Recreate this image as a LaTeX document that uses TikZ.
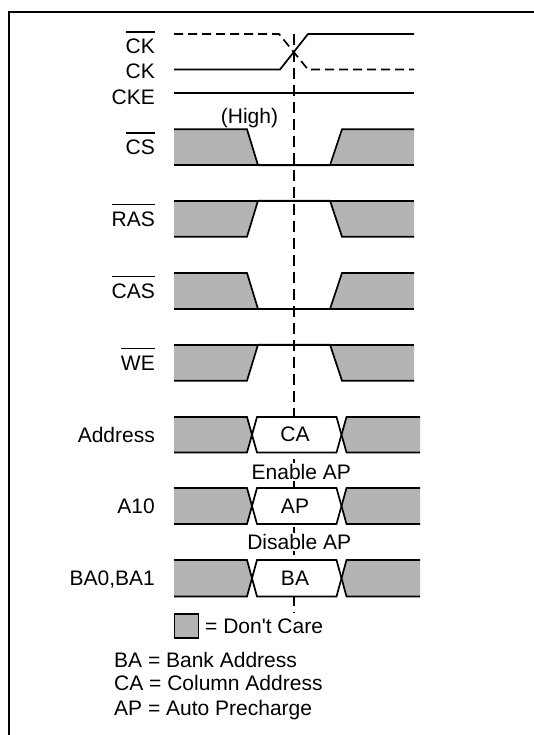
\documentclass[tikz,border=0pt]{standalone}
\usepackage{fontspec}
\setmainfont{Liberation Sans}[Ligatures=TeXOff]
\definecolor{dcgray}{RGB}{180,180,180}
\newcommand\sigbar[1]{\vbox{\hrule height 1.4pt\kern 6.5pt\hbox{#1}}}
\newcommand\hilorow[2]{%
  \fill[dcgray] (174,#1)--(247,#1)--(258,#2)--(174,#2)--cycle;
  \fill[dcgray] (330,#2)--(342,#1)--(414,#1)--(414,#2)--cycle;
  \draw[sig] (174,#1)--(247,#1)--(258,#2)--(330,#2)--(342,#1)--(414,#1);
  \draw[sig] (174,#2)--(414,#2);}
\newcommand\lohirow[2]{%
  \fill[dcgray] (174,#1)--(258,#1)--(247,#2)--(174,#2)--cycle;
  \fill[dcgray] (330,#1)--(342,#2)--(414,#2)--(414,#1)--cycle;
  \draw[sig] (174,#2)--(247,#2)--(258,#1)--(330,#1)--(342,#2)--(414,#2);
  \draw[sig] (174,#1)--(414,#1);}
\newcommand\datarow[5]{%
  \fill[dcgray] (174,#1)--(247,#1)--(252,#2)--(247,#3)--(174,#3)--cycle;
  \fill[white] (252,#2)--(257,#1)--(336.5,#1)--(341.5,#2)--(336.5,#3)--(257,#3)--cycle;
  \fill[dcgray] (341.5,#2)--(346.5,#1)--(420,#1)--(420,#3)--(346.5,#3)--cycle;
  \draw[sig] (174,#1)--(247,#1)--(257,#3)--(336.5,#3)--(346.5,#1)--(420,#1);
  \draw[sig] (174,#3)--(247,#3)--(257,#1)--(336.5,#1)--(346.5,#3)--(420,#3);
  \node[txt] (#4) at (295,#2) {#5};}
\begin{document}
\begin{tikzpicture}[x=1pt,y=-1pt,
  sig/.style={line width=1.7pt},
  txt/.style={inner sep=0pt,font=\fontsize{21}{25}\selectfont},
  lbl/.style={txt,anchor=base east},
  leg/.style={txt,anchor=base west}]
\useasboundingbox (0,0) rectangle (534,735);
% frame
\draw[line width=2.2pt] (9,745)--(9,12)--(545,12);
% vertical reference line
\coordinate (vtop) at (294,34);
\coordinate (vbot) at (294,613);
\draw[line width=2.2pt,dash pattern=on 11pt off 6pt] (vtop)--(vbot);
% clocks
\draw[sig,dash pattern=on 9pt off 5pt] (174,34)--(279,34)--(308,69.5)--(414,69.5);
\draw[sig] (174,69.5)--(280,69.5)--(308,34)--(414,34);
\draw[sig] (174,93)--(414,93);
\node[lbl] (lckb) at (155,54) {\sigbar{CK}};
\node[lbl] (lck) at (155,78.5) {CK};
\node[lbl] (lcke) at (155,104.5) {CKE};
\node[txt,anchor=base] (high) at (249.5,123.5) {(High)};
% control rows
\hilorow{129.3}{165.2}
\lohirow{200.7}{236.7}
\hilorow{273}{309}
\lohirow{344.7}{380.7}
\node[lbl] (lcs) at (155,155) {\sigbar{CS}};
\node[lbl] (lras) at (155,226.5) {\sigbar{RAS}};
\node[lbl] (lcas) at (155,298.5) {\sigbar{CAS}};
\node[lbl] (lwe) at (155,370) {\sigbar{WE}};
% data rows
\datarow{417}{434.7}{452.5}{ca}{CA}
\datarow{488}{506}{524}{ap}{AP}
\datarow{560}{578.2}{596.5}{ba}{BA}
\node[lbl] (laddr) at (155,442) {Address};
\node[lbl] (la10) at (155,513.5) {A10};
\node[lbl] (lba) at (155,585.5) {BA0,BA1};
\node[txt,fill=white,inner sep=1pt] (en) at (301.3,472) {Enable AP};
\node[txt,fill=white,inner sep=1pt] (dis) at (299.2,542) {Disable AP};
% legend
\node[draw,fill=dcgray,line width=1.6pt,minimum size=24pt,inner sep=0pt] (box) at (186.3,626.2) {};
\node[leg] (dc) at (205,633.5) {= Don't Care};
\node[leg] (l1) at (114,667) {BA = Bank Address};
\node[leg] (l2) at (114,690.5) {CA = Column Address};
\node[leg] (l3) at (114,715) {AP = Auto Precharge};
\end{tikzpicture}
\end{document}
